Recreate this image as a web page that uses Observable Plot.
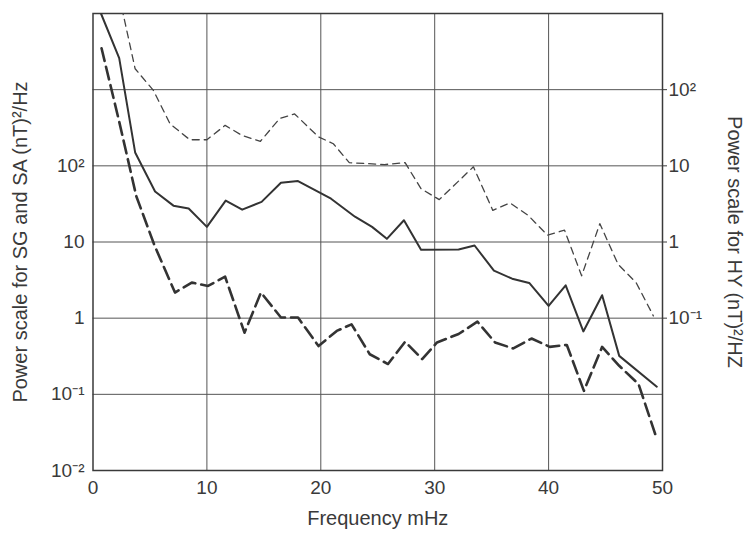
<!DOCTYPE html>
<html><head><meta charset="utf-8">
<script src="https://cdn.jsdelivr.net/npm/d3@7"></script>
<script src="https://cdn.jsdelivr.net/npm/@observablehq/plot@0.6"></script>
<style>body{margin:0;background:#fff}</style>
</head><body><div id="chart"></div>
<script>
// Solid line (left scale)
const freqSolid = [0.7, 2.3, 3.7, 5.45, 7.06, 8.4, 10.0, 11.65, 13.1, 14.8, 16.5, 18.0, 20.9, 23.0, 24.5, 25.8, 27.3, 28.8, 32.1, 33.5, 35.2, 36.8, 38.3, 40.0, 41.5, 43.05, 44.7, 46.2, 49.5];
const powerSolid = [10000, 2600, 150, 46, 30, 27.5, 15.8, 35, 26.6, 33.6, 60, 63, 37, 21.5, 15.8, 11, 19.3, 7.9, 7.95, 9.0, 4.2, 3.3, 2.9, 1.45, 2.7, 0.67, 2.0, 0.32, 0.126];

// Heavy long-dashed line (left scale)
const freqHeavy = [0.75, 2.3, 3.8, 5.4, 7.2, 8.67, 10.1, 11.6, 13.3, 14.75, 16.5, 18.0, 19.8, 21.4, 22.7, 24.3, 25.9, 27.4, 28.9, 30.2, 32.1, 33.75, 35.3, 36.9, 38.5, 40.1, 41.6, 43.1, 44.7, 46.2, 47.9, 49.5];
const powerHeavy = [3500, 380, 40, 9, 2.17, 2.93, 2.65, 3.5, 0.645, 2.17, 1.02, 1.02, 0.43, 0.68, 0.83, 0.336, 0.25, 0.49, 0.29, 0.48, 0.62, 0.9, 0.48, 0.40, 0.54, 0.42, 0.445, 0.111, 0.42, 0.237, 0.136, 0.026];

// HY thin short-dashed line (right scale units)
const freqHY = [2.3, 3.7, 5.3, 6.77, 8.5, 10.0, 11.6, 13.1, 14.7, 16.4, 17.7, 19.8, 21.1, 22.5, 25.6, 27.4, 28.8, 30.4, 33.4, 35.1, 36.6, 38.2, 39.9, 41.4, 42.9, 44.5, 46.1, 47.7, 49.2];
const powerHY = [1700, 188, 98, 35.5, 22, 22, 34, 25, 21, 42, 48, 24, 19.5, 11, 10.4, 11, 5.0, 3.6, 9.7, 2.6, 3.26, 2.24, 1.23, 1.43, 0.36, 1.74, 0.51, 0.29, 0.107];
const HY_TO_LEFT = 10; // right axis value x10 = left axis value

// Axes
const xTicks = [0, 10, 20, 30, 40, 50];
const leftTicks = [0.01, 0.1, 1, 10, 100];
const leftLabels = ["10\u207B\u00B2", "10\u207B\u00B9", "1", "10", "10\u00B2"];
const rightTicks = [100, 10, 1, 0.1];
const rightLabels = ["10\u00B2", "10", "1", "10\u207B\u00B9"];
const gridYTicks = [0.1, 1, 10, 100, 1000];
const gridXTicks = [10, 20, 30, 40];

const xLabel = "Frequency mHz";
const leftTitle = "Power scale for SG and SA (nT)\u00B2/Hz";
const rightTitle = "Power scale for HY (nT)\u00B2/HZ";

const solid = freqSolid.map((f, i) => ({f, v: powerSolid[i]}));
const heavy = freqHeavy.map((f, i) => ({f, v: powerHeavy[i]}));
const hy = freqHY.map((f, i) => ({f, v: powerHY[i]}));

const leftMap = new Map(leftTicks.map((t, i) => [t, leftLabels[i]]));
const rightPos = rightTicks.map(t => t * HY_TO_LEFT);
const rightMap = new Map(rightPos.map((t, i) => [t, rightLabels[i]]));

const ink = "#333";
const chart = Plot.plot({
  width: 749, height: 534,
  marginLeft: 92.5, marginRight: 87, marginTop: 13, marginBottom: 64,
  style: {fontFamily: "'Liberation Sans', Arial, Helvetica, sans-serif", fontSize: "19px", color: "#3a3a3a", background: "#fff"},
  x: {domain: [0, 50]},
  y: {type: "log", domain: [0.01, 10000]},
  marks: [
    Plot.gridX({ticks: gridXTicks, stroke: "#555", strokeOpacity: 1, strokeWidth: 1}),
    Plot.gridY({ticks: gridYTicks, stroke: "#555", strokeOpacity: 1, strokeWidth: 1}),
    Plot.frame({stroke: "#3a3a3a", strokeWidth: 1.5}),
    Plot.axisX({ticks: xTicks, tickSize: 0, tickPadding: 10, label: null, tickFormat: d => String(d)}),
    Plot.axisY({anchor: "left", ticks: leftTicks, tickSize: 0, tickPadding: 8.5, label: null, tickFormat: d => leftMap.get(d)}),
    Plot.axisY({anchor: "right", ticks: rightPos, tickSize: 4, tickPadding: 2, label: null, tickFormat: d => rightMap.get(d), stroke: "#3a3a3a"}),
    Plot.line(hy, {x: "f", y: d => d.v * HY_TO_LEFT, stroke: "#444", strokeWidth: 1.3, strokeDasharray: "7,5", clip: true}),
    Plot.line(heavy, {x: "f", y: "v", stroke: ink, strokeWidth: 2.6, strokeDasharray: "13,6", clip: true}),
    Plot.line(solid, {x: "f", y: "v", stroke: ink, strokeWidth: 2, clip: true}),
    Plot.text([xLabel], {text: d => d, frameAnchor: "bottom", textAnchor: "middle", dy: 54, fontSize: 20, fill: "#3a3a3a"}),
    Plot.text([leftTitle], {text: d => d, frameAnchor: "left", textAnchor: "middle", dx: -72, rotate: -90, fontSize: 20, fill: "#3a3a3a"}),
    Plot.text([rightTitle], {text: d => d, frameAnchor: "right", textAnchor: "middle", dx: 72, rotate: 90, fontSize: 20, fill: "#3a3a3a"})
  ]
});
document.getElementById("chart").appendChild(chart);
</script>
</body></html>
